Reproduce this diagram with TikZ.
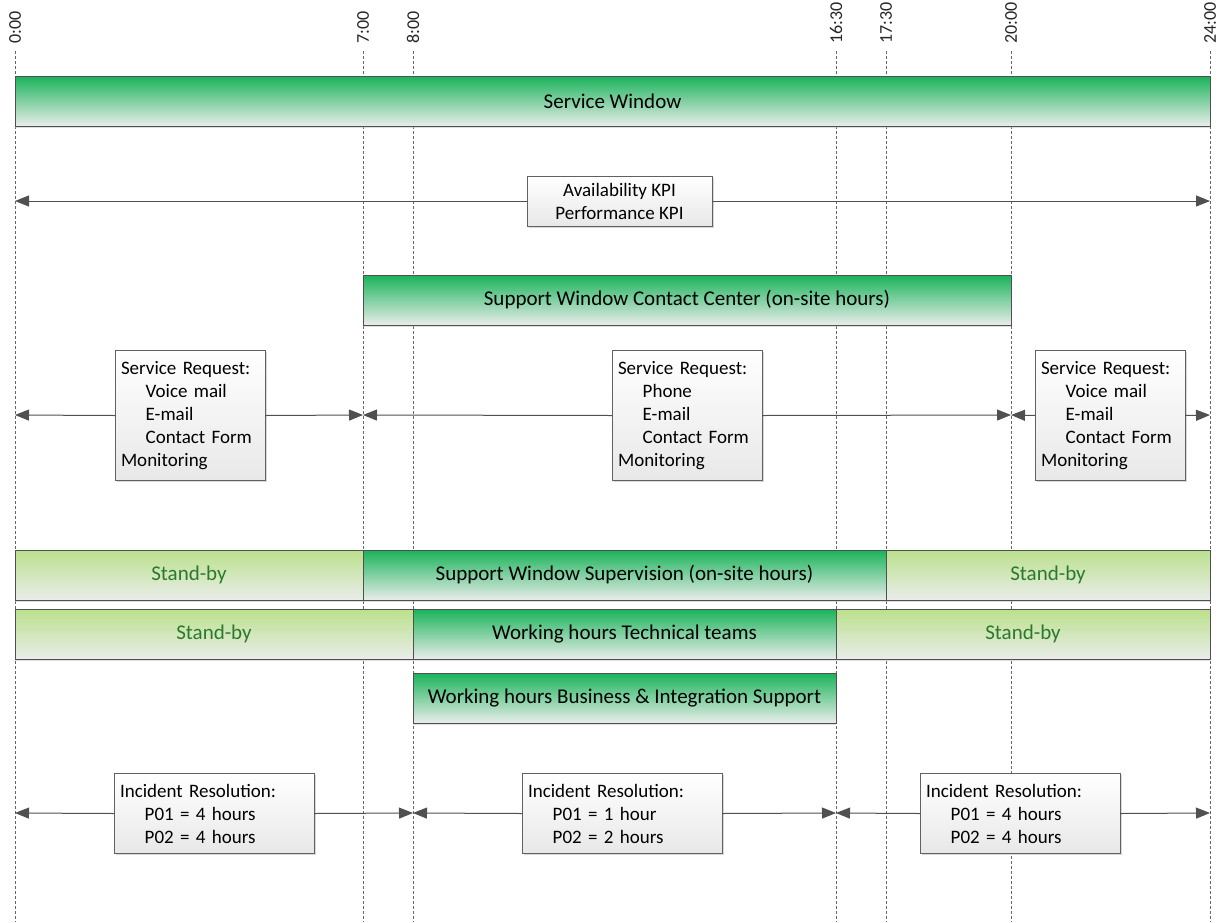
\documentclass[tikz,border=0pt]{standalone}
\usepackage{fontspec}
\setmainfont{Carlito}
\usetikzlibrary{arrows.meta,shadows,positioning}

\definecolor{vgreen}{HTML}{1AB35A}
\definecolor{vpale}{HTML}{E9EDEA}
\definecolor{vlight}{HTML}{BBE08C}
\definecolor{vtext}{HTML}{2A7A2A}
\definecolor{vline}{HTML}{505050}

\tikzset{
  bar/.style={draw=vline, line width=0.9pt, inner sep=0pt, outer sep=0pt,
    minimum height=50pt, font=\fontsize{21}{25}\selectfont,
    drop shadow={shadow xshift=0pt, shadow yshift=-1.5pt, fill=black!25}},
  darkbar/.style={bar, top color=vgreen, bottom color=vpale},
  lightbar/.style={bar, top color=vlight, bottom color=vpale, text=vtext},
  infobox/.style={draw=vline!90, line width=0.8pt, top color=white,
    bottom color=black!9, inner sep=6pt, outer sep=0pt,
    font=\fontsize{19}{23}\selectfont,
    drop shadow={shadow xshift=1.5pt, shadow yshift=-1.5pt, fill=black!30}},
  hourline/.style={dash pattern=on 3pt off 2pt, black!60, line width=0.6pt},
  hourlabel/.style={rotate=90, anchor=west, inner sep=0pt, text=black!85,
    font=\fontsize{18}{20}\selectfont},
  span/.style={vline, line width=1pt},
  tip/.tip={Triangle[length=14pt,width=11pt]},
}

\newcommand{\ind}{\hspace*{1.3em}}

\begin{document}
\begin{tikzpicture}[x=1pt, y=-1pt]
  \useasboundingbox (0,0) rectangle (1219,922);

  % Graduations horaires
  \foreach \h/\x/\n in {0:00/15/h0, 7:00/363/h7, 8:00/413/h8, 16:30/836/h16,
                        17:30/886/h17, 20:00/1011/h20, 24:00/1210/h24}{
    \node[hourlabel] (lab\n) at (\x,44) {\h};
    \coordinate (top\n) at (\x,51);
    \coordinate (bot\n) at (\x,922);
    \draw[hourline] (top\n) -- (bot\n);
  }

  % Fenetre de service
  \node[darkbar, minimum width=1195pt] (sw) at (612.5,101) {Service Window};

  % KPI
  \coordinate (kpiL) at (15,201);
  \coordinate (kpiR) at (1210,201);
  \node[infobox, minimum width=185pt, minimum height=50pt, inner sep=0pt,
        align=center] (kpi) at (619.5,201) {Availability KPI\\Performance KPI};
  \draw[span, tip-] (kpiL) -- (kpi.west);
  \draw[span, -tip] (kpi.east) -- (kpiR);

  % Centre de contact
  \node[darkbar, minimum width=648pt] (cc) at (687,300)
    {Support Window Contact Center (on-site hours)};

  % Demandes de service
  \coordinate (sr0) at (15,415);
  \coordinate (sr7) at (363,415);
  \coordinate (sr20) at (1011,415);
  \coordinate (sr24) at (1210,415);
  \node[infobox, text width=138pt, minimum height=130pt, align=left] (srA)
    at (190,415.5)
    {Service Request:\\\ind Voice mail\\\ind E-mail\\\ind Contact Form\\Monitoring};
  \node[infobox, text width=138pt, minimum height=130pt, align=left] (srB)
    at (687,415.5)
    {Service Request:\\\ind Phone\\\ind E-mail\\\ind Contact Form\\Monitoring};
  \node[infobox, text width=138pt, minimum height=130pt, align=left] (srC)
    at (1110,415.5)
    {Service Request:\\\ind Voice mail\\\ind E-mail\\\ind Contact Form\\Monitoring};
  \draw[span, tip-] (sr0) -- (srA.west);
  \draw[span, -tip] (srA.east) -- (sr7);
  \draw[span, tip-] (sr7) -- (srB.west);
  \draw[span, -tip] (srB.east) -- (sr20);
  \draw[span, tip-] (sr20) -- (srC.west);
  \draw[span, -tip] (srC.east) -- (sr24);

  % Supervision
  \node[lightbar, minimum width=348pt] (sbA) at (189,575) {Stand-by};
  \node[darkbar, minimum width=523pt] (sup) at (624.5,575)
    {Support Window Supervision (on-site hours)};
  \node[lightbar, minimum width=324pt] (sbB) at (1048,575) {Stand-by};

  % Equipes techniques
  \node[lightbar, minimum width=398pt] (sbC) at (214,634) {Stand-by};
  \node[darkbar, minimum width=423pt] (tech) at (624.5,634)
    {Working hours Technical teams};
  \node[lightbar, minimum width=374pt] (sbD) at (1023,634) {Stand-by};

  % Support metier
  \node[darkbar, minimum width=423pt] (bis) at (624.5,698)
    {Working hours Business \& Integration Support};

  % Resolution des incidents
  \coordinate (ir0) at (15,813);
  \coordinate (ir8) at (413,813);
  \coordinate (ir16) at (836,813);
  \coordinate (ir24) at (1210,813);
  \node[infobox, text width=188pt, minimum height=80pt, align=left] (irA)
    at (214,813.5)
    {Incident Resolution:\\\ind P01 = 4 hours\\\ind P02 = 4 hours};
  \node[infobox, text width=188pt, minimum height=80pt, align=left] (irB)
    at (622,813.5)
    {Incident Resolution:\\\ind P01 = 1 hour\\\ind P02 = 2 hours};
  \node[infobox, text width=188pt, minimum height=80pt, align=left] (irC)
    at (1020,813.5)
    {Incident Resolution:\\\ind P01 = 4 hours\\\ind P02 = 4 hours};
  \draw[span, tip-] (ir0) -- (irA.west);
  \draw[span, -tip] (irA.east) -- (ir8);
  \draw[span, tip-] (ir8) -- (irB.west);
  \draw[span, -tip] (irB.east) -- (ir16);
  \draw[span, tip-] (ir16) -- (irC.west);
  \draw[span, -tip] (irC.east) -- (ir24);
\end{tikzpicture}
\end{document}
